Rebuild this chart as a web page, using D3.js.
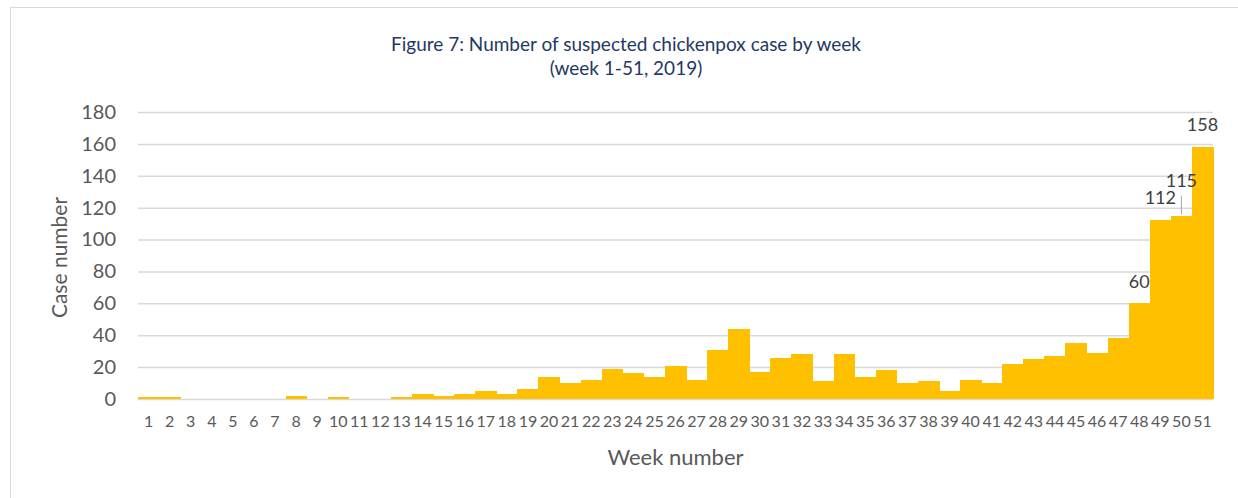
<!DOCTYPE html>
<html>
<head>
<meta charset="utf-8">
<script src="https://cdn.jsdelivr.net/npm/d3@7"></script>
<style>
  html, body { margin: 0; padding: 0; background: #fff; }
  svg { display: block; font-family: Lato, 'Open Sans', sans-serif; }
</style>
</head>
<body>
<div id="svg-area"></div>
<script>
// weekly suspected chickenpox cases, 2019
const weeks = d3.range(1, 52).map(String);
const cases = [1, 1, 0, 0, 0, 0, 0, 2, 0, 1, 0, 0, 1, 3, 2, 3, 5, 3, 6, 14,
  10, 12, 19, 16, 14, 21, 12, 31, 44, 17, 26, 28, 11, 28, 14, 18, 10, 11, 5, 12,
  10, 22, 25, 27, 35, 29, 38, 60, 112, 115, 158];
const labelledWeeks = ['48', '49', '50', '51'];
const yTicks = [0, 20, 40, 60, 80, 100, 120, 140, 160, 180];
const titleLines = ['Figure 7: Number of suspected chickenpox case by week', '(week 1-51, 2019)'];

const width = 1238;
const height = 498;
const margin = {top: 112, left: 138, bottom: 99, right: 25};

const data = weeks.map((w, i) => ({week: w, value: cases[i]}));

const x = d3.scaleBand()
  .domain(weeks)
  .range([margin.left, width - margin.right])
  .padding(0);

const y = d3.scaleLinear()
  .domain([0, 180])
  .range([height - margin.bottom, margin.top]);

const svg = d3.select('#svg-area').append('svg')
  .attr('width', width).attr('height', height);

// outer chart border
svg.append('rect')
  .attr('x', 10.5).attr('y', 7.5)
  .attr('width', width).attr('height', height)
  .attr('fill', 'none').attr('stroke', '#d9d9d9');

const yAxis = g => g
  .attr('transform', `translate(${margin.left}, 0)`)
  .call(d3.axisLeft(y).tickValues(yTicks).tickSize(0).tickPadding(22))
  .call(g => g.select('.domain').remove())
  .call(g => g.selectAll('text')
    .style('font-size', '20px').style('fill', '#595959')
    .style('font-family', 'Lato, sans-serif'))
  .call(g => g.selectAll('.tick line').clone()
    .attr('x2', width - margin.left - margin.right)
    .attr('stroke', '#d9d9d9').attr('stroke-width', 1.5));

const xAxis = g => g
  .attr('transform', `translate(0, ${height - margin.bottom})`)
  .call(d3.axisBottom(x).tickSize(0).tickPadding(17))
  .call(g => g.select('.domain').remove())
  .call(g => g.selectAll('text')
    .style('font-size', '16px').style('fill', '#595959')
    .style('font-family', 'Lato, sans-serif'));

svg.append('g').call(yAxis);

svg.append('g')
  .attr('shape-rendering', 'crispEdges')
  .selectAll('rect').data(data).enter().append('rect')
  .attr('x', d => x(d.week))
  .attr('y', d => y(d.value))
  .attr('width', x.bandwidth() + 0.6)
  .attr('height', d => y(0) - y(d.value))
  .attr('fill', '#ffc000');

svg.append('g').call(xAxis);

// data labels for the last weeks
const labelled = data.filter(d => labelledWeeks.includes(d.week));
const labelOffset = {'48': [0, -22], '49': [0, -23], '50': [0, -35], '51': [0, -22]};

const labels = svg.append('g')
  .style('font-size', '18px').style('fill', '#404040');

labels.selectAll('text').data(labelled).enter().append('text')
  .attr('x', d => x(d.week) + x.bandwidth() / 2 + labelOffset[d.week][0])
  .attr('y', d => y(d.value) + labelOffset[d.week][1])
  .attr('text-anchor', 'middle')
  .attr('dy', '0.35em')
  .text(d => d.value);

// leader line for week 50
const w50 = labelled.find(d => d.week === '50');
svg.append('line')
  .attr('x1', x('50') + x.bandwidth() / 2).attr('x2', x('50') + x.bandwidth() / 2)
  .attr('y1', y(w50.value) - 20).attr('y2', y(w50.value) - 1)
  .attr('stroke', '#a6a6a6').attr('stroke-width', 1);

// title
svg.append('g').selectAll('text').data(titleLines).enter().append('text')
  .attr('x', 626)
  .attr('y', (d, i) => 44 + i * 24)
  .attr('dy', '0.35em')
  .attr('text-anchor', 'middle')
  .style('font-size', '19px')
  .style('fill', '#1f3864')
  .text(d => d);

// axis titles
svg.append('text')
  .attr('transform', `translate(60, ${(y(0) + y(180)) / 2 + 2}) rotate(-90)`)
  .attr('text-anchor', 'middle').attr('dy', '0.35em')
  .style('font-size', '21px').style('fill', '#595959')
  .text('Case number');

svg.append('text')
  .attr('x', (margin.left + width - margin.right) / 2)
  .attr('y', 457)
  .attr('text-anchor', 'middle').attr('dy', '0.35em')
  .style('font-size', '22px').style('fill', '#595959')
  .text('Week number');
</script>
</body>
</html>
